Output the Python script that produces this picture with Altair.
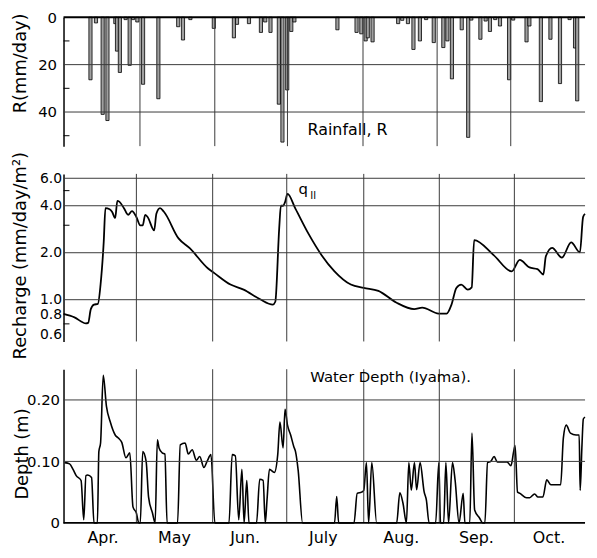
import altair as alt
import pandas as pd

FONT = "DejaVu Sans"

rain_day = [9.2, 11.5, 14.3, 16.3, 19.6, 20.3, 21.5, 23.9, 25.6, 27.0, 28.8, 31.2, 37.6,
            45.9, 47.9, 51.0, 60.8, 69.2, 70.5, 75.5, 80.5, 82.3, 84.5, 88.0, 89.5, 91.5,
            93.2, 94.5, 112.5, 120.5, 122.5, 124.3, 125.2, 127.2, 137.9, 139.6, 142.0,
            144.3, 147.0, 149.6, 152.8, 156.8, 158.5, 160.4, 164.5, 167.2, 168.5, 172.3,
            174.5, 176.3, 178.5, 180.5, 184.3, 186.0, 191.6, 192.8, 197.6, 201.6, 205.6,
            209.6, 211.9, 212.8]
rain_mm = [26.4, 2.4, 41.0, 43.6, 2.7, 14.3, 23.3, 1.0, 20.3, 1.0, 2.0, 28.3, 34.4,
           4.0, 9.6, 1.0, 4.7, 8.7, 3.0, 2.7, 6.4, 2.0, 6.4, 36.7, 52.7, 30.7,
           6.0, 2.0, 5.3, 6.4, 7.0, 10.0, 8.7, 10.4, 2.7, 1.3, 2.7,
           13.6, 10.0, 1.0, 10.7, 12.8, 10.0, 26.0, 5.3, 50.7, 1.2, 9.3,
           1.6, 6.0, 1.0, 3.7, 26.4, 1.2, 10.4, 3.7, 35.6, 9.3, 28.0,
           1.0, 13.0, 35.3]

rech_day = [0, 4.5, 9.2, 10.1, 11.2, 12.5, 14.1, 15.2, 16.5, 17.2, 18.9, 19.9, 21.2, 22.1,
            22.9, 24.8, 26.5, 28.1, 29.9, 31.5, 32.5, 33.5, 34.5, 37.2, 38.1, 39.6, 41.2,
            47.2, 51.9, 59.2, 61.9, 68.5, 73.9, 80.5, 85.9, 86.9, 88.5, 89.2, 90.1, 90.9,
            91.9, 95.2, 100.5, 105.9, 111.2, 117.9, 123.2, 129.2, 136.5, 143.9, 147.2,
            153.9, 157.2, 159.2, 161.2, 163.2, 165.9, 167.5, 168.5, 176.5, 183.9, 187.2,
            191.2, 194.5, 196.9, 197.9, 200.5, 204.5, 208.3, 211.9, 213.2, 214.0]
rech_val = [0.81, 0.77, 0.705, 0.71, 0.87, 0.93, 0.94, 1.25, 2.35, 3.86, 3.8, 3.66, 3.34, 4.3,
            4.25, 3.86, 3.5, 3.7, 3.39, 2.99, 2.99, 3.5, 3.39, 2.78, 3.55, 3.86, 3.66,
            2.47, 2.13, 1.59, 1.48, 1.25, 1.16, 1.01, 0.93, 0.97, 2.86, 4.0, 4.0, 4.22,
            4.76, 3.82, 2.65, 1.93, 1.52, 1.25, 1.19, 1.14, 0.96, 0.87, 0.89,
            0.815, 0.815, 0.93, 1.19, 1.25, 1.16, 1.2, 2.41, 1.93, 1.52, 1.8,
            1.61, 1.57, 1.45, 1.89, 2.15, 1.86, 2.33, 2.01, 3.39, 3.55]

depth_day = [0.5, 2.5, 3.9, 5.2, 7.2, 8.3, 9.2, 9.9, 11.5, 12.5, 13.9, 14.5, 15.2, 16.3, 17.6,
             19.2, 21.2, 22.5, 23.9, 25.6, 27.2, 28.5, 29.9, 30.9, 31.5, 32.5, 33.9, 34.9,
             36.5, 37.6, 38.5, 39.2, 40.5, 41.6, 42.5, 46.8, 47.9, 49.9, 51.2, 52.8, 54.5,
             55.9, 57.6, 58.9, 60.5, 62.1, 67.9, 69.2, 70.5, 71.9, 73.2, 74.1, 75.2, 76.1,
             79.2, 80.5, 81.9, 82.8, 83.5, 84.5, 86.5, 87.9, 88.8, 90.1, 90.9, 91.9, 93.2,
             94.5, 95.2, 96.3, 98.1, 111.2, 112.1, 112.9, 119.2, 120.5, 122.3, 123.2, 124.3,
             125.2, 126.5, 128.5, 136.7, 138.0, 139.3, 140.7, 141.7, 142.7, 144.0, 144.9,
             146.3, 148.0, 148.9, 150.0, 152.7, 154.0, 154.7, 156.0, 156.9, 158.0, 159.6,
             160.7, 162.3, 164.0, 164.7, 166.7, 167.6, 168.7, 170.7, 172.0, 172.9, 174.0,
             175.3, 176.7, 178.0, 182.0, 183.6, 184.7, 185.3, 186.3, 187.3, 190.0, 191.3,
             193.3, 194.7, 196.7, 198.3, 200.0, 204.0, 205.1, 206.3, 208.0, 210.3, 211.6,
             212.0, 212.7, 213.3, 214.0]
depth_val = [0.098, 0.096, 0.087, 0.077, 0.069, 0.005, 0.077, 0.078, 0.074, 0.0, 0.0, 0.116,
             0.13, 0.24, 0.19, 0.164, 0.143, 0.138, 0.131, 0.106, 0.114, 0.026, 0.016, 0.0,
             0.0, 0.116, 0.1, 0.042, 0.016, 0.0, 0.135, 0.122, 0.114, 0.112, 0.0, 0.0, 0.127,
             0.13, 0.112, 0.119, 0.102, 0.108, 0.09, 0.1, 0.111, 0.0, 0.0, 0.111, 0.109,
             0.005, 0.087, 0.0, 0.069, 0.0, 0.0, 0.071, 0.069, 0.0, 0.037, 0.087, 0.082,
             0.111, 0.164, 0.122, 0.185, 0.159, 0.143, 0.124, 0.116, 0.085, 0.0, 0.0, 0.043,
             0.0, 0.0, 0.048, 0.05, 0.053, 0.098, 0.0, 0.098, 0.0, 0.0, 0.049, 0.032, 0.0,
             0.098, 0.053, 0.098, 0.054, 0.098, 0.05, 0.037, 0.0, 0.0, 0.098, 0.0, 0.0,
             0.098, 0.0, 0.098, 0.069, 0.0, 0.048, 0.0, 0.0, 0.146, 0.021, 0.008, 0.0, 0.0,
             0.098, 0.1, 0.108, 0.099, 0.099, 0.093, 0.116, 0.126, 0.05, 0.048, 0.041,
             0.041, 0.047, 0.042, 0.042, 0.07, 0.062, 0.062, 0.138, 0.159, 0.146, 0.143,
             0.143, 0.053, 0.122, 0.169, 0.172]

month_lines = [29.9, 61.2, 91.6, 123.2, 154.2, 185.0]
month_names = ["Apr.", "May", "Jun.", "July", "Aug.", "Sep.", "Oct."]
month_label_day = [16.2, 45.5, 74.5, 106.6, 138.6, 169.4, 199.2]

rain_ticks = [0, 20, 40]
rain_grid = [20, 40]
rain_minor = [10, 30, 50]
rech_ticks = [0.6, 0.8, 1.0, 2.0, 4.0, 6.0]
rech_grid = [1.0, 2.0, 4.0, 6.0]
rech_minor = [0.7, 3.0, 5.0]
depth_ticks = [0, 0.1, 0.2]
depth_grid = [0.1, 0.2]

W = 526
xs = alt.Scale(domain=[0, 214], nice=False, zero=False)
GRID = "#3a3a3a"


def X(field="day"):
    return alt.X(f"{field}:Q", scale=xs, axis=None)


def month_rules():
    return alt.Chart(pd.DataFrame({"day": month_lines})).mark_rule(
        color=GRID, strokeWidth=1).encode(x=X())


def hrules(vals, scale, axis, width=1.0, color=GRID):
    return alt.Chart(pd.DataFrame({"v": vals})).mark_rule(
        color=color, strokeWidth=width).encode(y=alt.Y("v:Q", scale=scale, axis=axis))


def minor_ticks(vals, scale, axis):
    return alt.Chart(pd.DataFrame({"v": vals})).mark_rule(
        color="black", strokeWidth=1).encode(
        x=alt.value(0), x2=alt.value(6), y=alt.Y("v:Q", scale=scale, axis=axis))


def note(day, v, text, scale, axis, size, font=FONT):
    return alt.Chart(pd.DataFrame({"day": [day], "v": [v], "t": [text]})).mark_text(
        align="left", baseline="middle", font=font, fontSize=size, color="black"
    ).encode(x=X(), y=alt.Y("v:Q", scale=scale, axis=axis), text="t:N")


# ---------- Panel 1 : rainfall ----------
ry = alt.Scale(domain=[0, 54.4], reverse=True, nice=False, zero=False)
ax1 = alt.Axis(values=rain_ticks, title="R(mm/day)", titleX=-43, titleY=46,
               titleBaseline="middle", labelPadding=7)
rain_df = pd.DataFrame({"day": rain_day, "v": rain_mm})
bars = alt.Chart(rain_df).mark_bar(
    size=3.2, fill="#a0a0a0", stroke="black", strokeWidth=0.8, orient="vertical"
).encode(x=X(), y=alt.Y("v:Q", scale=ry, axis=ax1))

p1 = alt.layer(
    bars, month_rules(), hrules(rain_grid, ry, ax1), minor_ticks(rain_minor, ry, ax1),
    hrules([0], ry, ax1, width=2, color="black"),
    note(100.0, 47.6, "Rainfall, R", ry, ax1, 16)
).properties(width=W, height=130)

# ---------- Panel 2 : recharge ----------
qy = alt.Scale(type="log", domain=[0.54, 6.4], nice=False)
ax2 = alt.Axis(values=rech_ticks, format=".1f", title="Recharge (mm/day/m²)",
               titleX=-43, titleY=82, titleBaseline="middle", labelPadding=2,
               labelFontSize=14)
rech_df = pd.DataFrame({"day": rech_day, "v": rech_val})
rech_line = alt.Chart(rech_df).mark_line(
    color="black", strokeWidth=1.8, interpolate="monotone"
).encode(x=X(), y=alt.Y("v:Q", scale=qy, axis=ax2))

p2 = alt.layer(
    rech_line, month_rules(), hrules(rech_grid, qy, ax2), minor_ticks(rech_minor, qy, ax2),
    note(96.4, 5.1, "q", qy, ax2, 15),
    note(100.4, 4.6, "Ⅱ", qy, ax2, 10, font="Noto Sans CJK JP")
).properties(width=W, height=169)

# ---------- Panel 3 : water depth ----------
dy = alt.Scale(domain=[0, 0.25], nice=False, zero=False)
ax3 = alt.Axis(values=depth_ticks, title="Depth (m)",
               labelExpr="datum.value == 0 ? '0' : format(datum.value, '.2f')",
               titleX=-41, titleY=85, titleBaseline="middle", labelPadding=4)
depth_df = pd.DataFrame({"day": depth_day, "v": depth_val})
depth_line = alt.Chart(depth_df).mark_line(
    color="black", strokeWidth=1.6, interpolate="monotone"
).encode(x=X(), y=alt.Y("v:Q", scale=dy, axis=ax3))
months = alt.Chart(pd.DataFrame({"day": month_label_day, "m": month_names})).mark_text(
    align="center", baseline="middle", font=FONT, fontSize=16, color="black"
).encode(x=X(), y=alt.value(170), text="m:N")

p3 = alt.layer(
    depth_line, month_rules(), hrules(depth_grid, dy, ax3),
    hrules([0], dy, ax3, width=1.6, color="black"),
    note(101.2, 0.238, "Water  Depth (Iyama).", dy, ax3, 15), months
).properties(width=W, height=155)

chart = alt.vconcat(p1, p2, p3, spacing=28, bounds="flush").properties(
    padding={"left": 3, "top": 0, "right": 0, "bottom": 0}
).configure_view(stroke=None).configure_axis(
    domainColor="black", domainWidth=1.5, ticks=False, grid=False,
    labelFont=FONT, labelFontSize=15, labelColor="black",
    titleFont=FONT, titleFontSize=18, titleFontWeight="normal", titleColor="black",
)

chart.save("out.html", embed_options={"renderer": "svg", "actions": False})
